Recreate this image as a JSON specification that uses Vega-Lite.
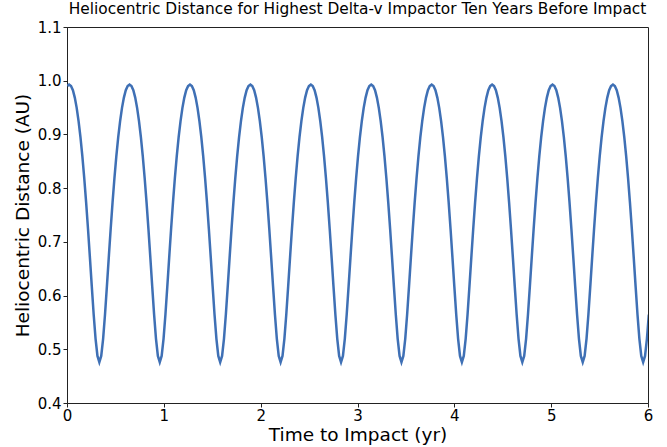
{
"$schema": "https://vega.github.io/schema/vega-lite/v6.json",
"width": 581, "height": 376,
"autosize": "none",
"padding": {"left": 67, "top": 27, "right": 19, "bottom": 44},
"background": "white",
"config": {"view": {"stroke": "#222222", "strokeWidth": 1}, "font": "DejaVu Sans"},
"title": {"text": "Heliocentric Distance for Highest Delta-v Impactor Ten Years Before Impact", "fontSize": 15.4, "fontWeight": "normal", "font": "DejaVu Sans", "color": "black", "offset": 3, "anchor": "middle"},
"data": {"values": [
{"t":0.0025,"r":0.9903},{"t":0.022,"r":0.9930},{"t":0.0415,"r":0.9903},{"t":0.061,"r":0.9822},{"t":0.0805,"r":0.9685},{"t":0.1,"r":0.9494},{"t":0.1195,"r":0.9248},{"t":0.139,"r":0.8948},{"t":0.1585,"r":0.8595},{"t":0.178,"r":0.8189},
{"t":0.1975,"r":0.7736},{"t":0.217,"r":0.7239},{"t":0.2365,"r":0.6711},{"t":0.256,"r":0.6170},{"t":0.2755,"r":0.5648},{"t":0.295,"r":0.5194},{"t":0.3145,"r":0.4876},{"t":0.334,"r":0.4760},{"t":0.3535,"r":0.4876},{"t":0.373,"r":0.5194},
{"t":0.3925,"r":0.5648},{"t":0.412,"r":0.6170},{"t":0.4315,"r":0.6711},{"t":0.451,"r":0.7239},{"t":0.4705,"r":0.7736},{"t":0.49,"r":0.8189},{"t":0.5095,"r":0.8595},{"t":0.529,"r":0.8948},{"t":0.5485,"r":0.9248},{"t":0.568,"r":0.9494},
{"t":0.5875,"r":0.9685},{"t":0.607,"r":0.9822},{"t":0.6265,"r":0.9903},{"t":0.646,"r":0.9930},{"t":0.6655,"r":0.9903},{"t":0.685,"r":0.9822},{"t":0.7045,"r":0.9685},{"t":0.724,"r":0.9494},{"t":0.7435,"r":0.9248},{"t":0.763,"r":0.8948},
{"t":0.7825,"r":0.8595},{"t":0.802,"r":0.8189},{"t":0.8215,"r":0.7736},{"t":0.841,"r":0.7239},{"t":0.8605,"r":0.6711},{"t":0.88,"r":0.6170},{"t":0.8995,"r":0.5648},{"t":0.919,"r":0.5194},{"t":0.9385,"r":0.4876},{"t":0.958,"r":0.4760},
{"t":0.9775,"r":0.4876},{"t":0.997,"r":0.5194},{"t":1.0165,"r":0.5648},{"t":1.036,"r":0.6170},{"t":1.0555,"r":0.6711},{"t":1.075,"r":0.7239},{"t":1.0945,"r":0.7736},{"t":1.114,"r":0.8189},{"t":1.1335,"r":0.8595},{"t":1.153,"r":0.8948},
{"t":1.1725,"r":0.9248},{"t":1.192,"r":0.9494},{"t":1.2115,"r":0.9685},{"t":1.231,"r":0.9822},{"t":1.2505,"r":0.9903},{"t":1.27,"r":0.9930},{"t":1.2895,"r":0.9903},{"t":1.309,"r":0.9822},{"t":1.3285,"r":0.9685},{"t":1.348,"r":0.9494},
{"t":1.3675,"r":0.9248},{"t":1.387,"r":0.8948},{"t":1.4065,"r":0.8595},{"t":1.426,"r":0.8189},{"t":1.4455,"r":0.7736},{"t":1.465,"r":0.7239},{"t":1.4845,"r":0.6711},{"t":1.504,"r":0.6170},{"t":1.5235,"r":0.5648},{"t":1.543,"r":0.5194},
{"t":1.5625,"r":0.4876},{"t":1.582,"r":0.4760},{"t":1.6015,"r":0.4876},{"t":1.621,"r":0.5194},{"t":1.6405,"r":0.5648},{"t":1.66,"r":0.6170},{"t":1.6795,"r":0.6711},{"t":1.699,"r":0.7239},{"t":1.7185,"r":0.7736},{"t":1.738,"r":0.8189},
{"t":1.7575,"r":0.8595},{"t":1.777,"r":0.8948},{"t":1.7965,"r":0.9248},{"t":1.816,"r":0.9494},{"t":1.8355,"r":0.9685},{"t":1.855,"r":0.9822},{"t":1.8745,"r":0.9903},{"t":1.894,"r":0.9930},{"t":1.9135,"r":0.9903},{"t":1.933,"r":0.9822},
{"t":1.9525,"r":0.9685},{"t":1.972,"r":0.9494},{"t":1.9915,"r":0.9248},{"t":2.011,"r":0.8948},{"t":2.0305,"r":0.8595},{"t":2.05,"r":0.8189},{"t":2.0695,"r":0.7736},{"t":2.089,"r":0.7239},{"t":2.1085,"r":0.6711},{"t":2.128,"r":0.6170},
{"t":2.1475,"r":0.5648},{"t":2.167,"r":0.5194},{"t":2.1865,"r":0.4876},{"t":2.206,"r":0.4760},{"t":2.2255,"r":0.4876},{"t":2.245,"r":0.5194},{"t":2.2645,"r":0.5648},{"t":2.284,"r":0.6170},{"t":2.3035,"r":0.6711},{"t":2.323,"r":0.7239},
{"t":2.3425,"r":0.7736},{"t":2.362,"r":0.8189},{"t":2.3815,"r":0.8595},{"t":2.401,"r":0.8948},{"t":2.4205,"r":0.9248},{"t":2.44,"r":0.9494},{"t":2.4595,"r":0.9685},{"t":2.479,"r":0.9822},{"t":2.4985,"r":0.9903},{"t":2.518,"r":0.9930},
{"t":2.5375,"r":0.9903},{"t":2.557,"r":0.9822},{"t":2.5765,"r":0.9685},{"t":2.596,"r":0.9494},{"t":2.6155,"r":0.9248},{"t":2.635,"r":0.8948},{"t":2.6545,"r":0.8595},{"t":2.674,"r":0.8189},{"t":2.6935,"r":0.7736},{"t":2.713,"r":0.7239},
{"t":2.7325,"r":0.6711},{"t":2.752,"r":0.6170},{"t":2.7715,"r":0.5648},{"t":2.791,"r":0.5194},{"t":2.8105,"r":0.4876},{"t":2.83,"r":0.4760},{"t":2.8495,"r":0.4876},{"t":2.869,"r":0.5194},{"t":2.8885,"r":0.5648},{"t":2.908,"r":0.6170},
{"t":2.9275,"r":0.6711},{"t":2.947,"r":0.7239},{"t":2.9665,"r":0.7736},{"t":2.986,"r":0.8189},{"t":3.0055,"r":0.8595},{"t":3.025,"r":0.8948},{"t":3.0445,"r":0.9248},{"t":3.064,"r":0.9494},{"t":3.0835,"r":0.9685},{"t":3.103,"r":0.9822},
{"t":3.1225,"r":0.9903},{"t":3.142,"r":0.9930},{"t":3.1615,"r":0.9903},{"t":3.181,"r":0.9822},{"t":3.2005,"r":0.9685},{"t":3.22,"r":0.9494},{"t":3.2395,"r":0.9248},{"t":3.259,"r":0.8948},{"t":3.2785,"r":0.8595},{"t":3.298,"r":0.8189},
{"t":3.3175,"r":0.7736},{"t":3.337,"r":0.7239},{"t":3.3565,"r":0.6711},{"t":3.376,"r":0.6170},{"t":3.3955,"r":0.5648},{"t":3.415,"r":0.5194},{"t":3.4345,"r":0.4876},{"t":3.454,"r":0.4760},{"t":3.4735,"r":0.4876},{"t":3.493,"r":0.5194},
{"t":3.5125,"r":0.5648},{"t":3.532,"r":0.6170},{"t":3.5515,"r":0.6711},{"t":3.571,"r":0.7239},{"t":3.5905,"r":0.7736},{"t":3.61,"r":0.8189},{"t":3.6295,"r":0.8595},{"t":3.649,"r":0.8948},{"t":3.6685,"r":0.9248},{"t":3.688,"r":0.9494},
{"t":3.7075,"r":0.9685},{"t":3.727,"r":0.9822},{"t":3.7465,"r":0.9903},{"t":3.766,"r":0.9930},{"t":3.7855,"r":0.9903},{"t":3.805,"r":0.9822},{"t":3.8245,"r":0.9685},{"t":3.844,"r":0.9494},{"t":3.8635,"r":0.9248},{"t":3.883,"r":0.8948},
{"t":3.9025,"r":0.8595},{"t":3.922,"r":0.8189},{"t":3.9415,"r":0.7736},{"t":3.961,"r":0.7239},{"t":3.9805,"r":0.6711},{"t":4.0,"r":0.6170},{"t":4.0195,"r":0.5648},{"t":4.039,"r":0.5194},{"t":4.0585,"r":0.4876},{"t":4.078,"r":0.4760},
{"t":4.0975,"r":0.4876},{"t":4.117,"r":0.5194},{"t":4.1365,"r":0.5648},{"t":4.156,"r":0.6170},{"t":4.1755,"r":0.6711},{"t":4.195,"r":0.7239},{"t":4.2145,"r":0.7736},{"t":4.234,"r":0.8189},{"t":4.2535,"r":0.8595},{"t":4.273,"r":0.8948},
{"t":4.2925,"r":0.9248},{"t":4.312,"r":0.9494},{"t":4.3315,"r":0.9685},{"t":4.351,"r":0.9822},{"t":4.3705,"r":0.9903},{"t":4.39,"r":0.9930},{"t":4.4095,"r":0.9903},{"t":4.429,"r":0.9822},{"t":4.4485,"r":0.9685},{"t":4.468,"r":0.9494},
{"t":4.4875,"r":0.9248},{"t":4.507,"r":0.8948},{"t":4.5265,"r":0.8595},{"t":4.546,"r":0.8189},{"t":4.5655,"r":0.7736},{"t":4.585,"r":0.7239},{"t":4.6045,"r":0.6711},{"t":4.624,"r":0.6170},{"t":4.6435,"r":0.5648},{"t":4.663,"r":0.5194},
{"t":4.6825,"r":0.4876},{"t":4.702,"r":0.4760},{"t":4.7215,"r":0.4876},{"t":4.741,"r":0.5194},{"t":4.7605,"r":0.5648},{"t":4.78,"r":0.6170},{"t":4.7995,"r":0.6711},{"t":4.819,"r":0.7239},{"t":4.8385,"r":0.7736},{"t":4.858,"r":0.8189},
{"t":4.8775,"r":0.8595},{"t":4.897,"r":0.8948},{"t":4.9165,"r":0.9248},{"t":4.936,"r":0.9494},{"t":4.9555,"r":0.9685},{"t":4.975,"r":0.9822},{"t":4.9945,"r":0.9903},{"t":5.014,"r":0.9930},{"t":5.0335,"r":0.9903},{"t":5.053,"r":0.9822},
{"t":5.0725,"r":0.9685},{"t":5.092,"r":0.9494},{"t":5.1115,"r":0.9248},{"t":5.131,"r":0.8948},{"t":5.1505,"r":0.8595},{"t":5.17,"r":0.8189},{"t":5.1895,"r":0.7736},{"t":5.209,"r":0.7239},{"t":5.2285,"r":0.6711},{"t":5.248,"r":0.6170},
{"t":5.2675,"r":0.5648},{"t":5.287,"r":0.5194},{"t":5.3065,"r":0.4876},{"t":5.326,"r":0.4760},{"t":5.3455,"r":0.4876},{"t":5.365,"r":0.5194},{"t":5.3845,"r":0.5648},{"t":5.404,"r":0.6170},{"t":5.4235,"r":0.6711},{"t":5.443,"r":0.7239},
{"t":5.4625,"r":0.7736},{"t":5.482,"r":0.8189},{"t":5.5015,"r":0.8595},{"t":5.521,"r":0.8948},{"t":5.5405,"r":0.9248},{"t":5.56,"r":0.9494},{"t":5.5795,"r":0.9685},{"t":5.599,"r":0.9822},{"t":5.6185,"r":0.9903},{"t":5.638,"r":0.9930},
{"t":5.6575,"r":0.9903},{"t":5.677,"r":0.9822},{"t":5.6965,"r":0.9685},{"t":5.716,"r":0.9494},{"t":5.7355,"r":0.9248},{"t":5.755,"r":0.8948},{"t":5.7745,"r":0.8595},{"t":5.794,"r":0.8189},{"t":5.8135,"r":0.7736},{"t":5.833,"r":0.7239},
{"t":5.8525,"r":0.6711},{"t":5.872,"r":0.6170},{"t":5.8915,"r":0.5648},{"t":5.911,"r":0.5194},{"t":5.9305,"r":0.4876},{"t":5.95,"r":0.4760},{"t":5.9695,"r":0.4876},{"t":5.989,"r":0.5194},{"t":6.0085,"r":0.5648}
]},
"mark": {"type": "line", "color": "#3f70b5", "strokeWidth": 2.5, "clip": true},
"encoding": {
  "x": {"field": "t", "type": "quantitative",
        "scale": {"domain": [0, 6], "nice": false, "zero": false},
        "axis": {"values": [0, 1, 2, 3, 4, 5, 6], "title": "Time to Impact (yr)", "grid": false, "tickSize": 4, "labelFontSize": 15, "titleFontSize": 18.5, "titleFontWeight": "normal", "labelColor": "black", "titleColor": "black", "domainColor": "#222222", "tickColor": "#222222", "labelPadding": 1, "titlePadding": 2, "labelFlush": false, "labelOverlap": false}},
  "y": {"field": "r", "type": "quantitative",
        "scale": {"domain": [0.4, 1.1], "nice": false, "zero": false},
        "axis": {"values": [0.4, 0.5, 0.6, 0.7, 0.8, 0.9, 1.0, 1.1], "format": ".1f", "title": "Heliocentric Distance (AU)", "grid": false, "tickSize": 4, "labelFontSize": 15, "titleFontSize": 18.5, "titleFontWeight": "normal", "labelColor": "black", "titleColor": "black", "domainColor": "#222222", "tickColor": "#222222", "labelPadding": 2, "titlePadding": 5, "labelFlush": false, "labelOverlap": false}}
}
}
